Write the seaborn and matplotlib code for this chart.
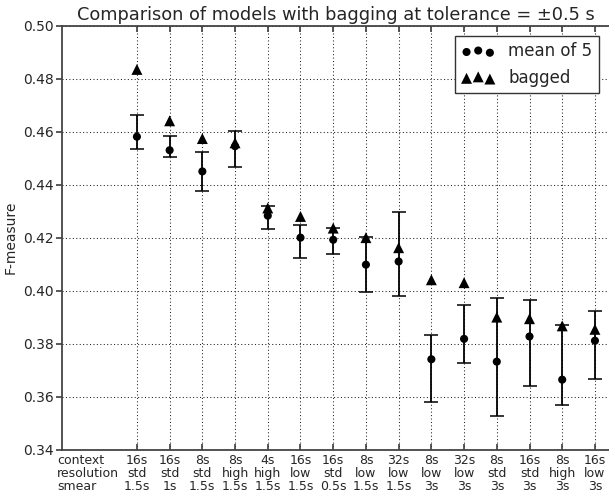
import matplotlib
matplotlib.use("Agg")
import matplotlib.pyplot as plt
import seaborn as sns
import numpy as np
import pandas as pd

context = ["16s", "16s", "8s", "8s", "4s", "16s", "16s", "8s", "32s", "8s", "32s", "8s", "16s", "8s", "16s"]
resolution = ["std", "std", "std", "high", "high", "low", "std", "low", "low", "low", "low", "std", "std", "high", "low"]
smear = ["1.5s", "1s", "1.5s", "1.5s", "1.5s", "1.5s", "0.5s", "1.5s", "1.5s", "3s", "3s", "3s", "3s", "3s", "3s"]

mean_of_5 = [0.4581, 0.4530, 0.4450, 0.4545, 0.4283, 0.4200, 0.4192, 0.4098, 0.4110,
             0.3741, 0.3818, 0.3732, 0.3827, 0.3664, 0.3811]
bagged = [0.4835, 0.4641, 0.4574, 0.4558, 0.4312, 0.4280, 0.4236, 0.4200, 0.4162,
          0.4041, 0.4030, 0.3900, 0.3894, 0.3867, 0.3854]
err_high = [0.4663, 0.4582, 0.4522, 0.4603, 0.4321, 0.4249, 0.4238, 0.4202, 0.4296,
            0.3833, 0.3946, 0.3972, 0.3966, 0.3870, 0.3923]
err_low = [0.4535, 0.4504, 0.4376, 0.4466, 0.4231, 0.4125, 0.4139, 0.3994, 0.3981,
           0.3581, 0.3727, 0.3527, 0.3639, 0.3568, 0.3665]

header_label = "context\nresolution\nsmear"
title = "Comparison of models with bagging at tolerance = \u00b10.5 s"
y_ticks = [0.34, 0.36, 0.38, 0.40, 0.42, 0.44, 0.46, 0.48, 0.50]

sns.set_theme(style="white")
plt.rcParams["font.family"] = ["DejaVu Sans"]

pos = np.arange(len(mean_of_5))
df = pd.DataFrame({"pos": pos, "mean": mean_of_5, "bagged": bagged,
                   "hi": err_high, "lo": err_low})

fig = plt.figure(figsize=(6.09, 4.99), dpi=100)
ax = fig.add_axes([0.1018, 0.0990, 0.8982, 0.8495])

ax.errorbar(df["pos"], df["mean"],
            yerr=[df["mean"] - df["lo"], df["hi"] - df["mean"]],
            fmt="none", ecolor="black", elinewidth=1.3, capsize=5, capthick=1.1, zorder=2)
sns.scatterplot(data=df, x="pos", y="mean", marker="o", s=34, color="black",
                edgecolor="none", label="mean of 5", ax=ax, zorder=3)
sns.scatterplot(data=df, x="pos", y="bagged", marker="^", s=62, color="black",
                edgecolor="none", label="bagged", ax=ax, zorder=3)

ax.set_xlim(-2.29, 14.43)
ax.set_ylim(0.34, 0.50)
ax.set_yticks(y_ticks)
ax.set_yticklabels([f"{v:.2f}" for v in y_ticks], fontsize=10)

xt = [-1.5] + list(pos)
xl = [header_label] + [f"{c}\n{r}\n{s}" for c, r, s in zip(context, resolution, smear)]
ax.set_xticks(xt)
ax.set_xticklabels(xl, fontsize=9, linespacing=1.0)
ax.set_xlabel("")
ax.set_ylabel("F-measure", fontsize=10)
ax.set_title(title, fontsize=12.8, pad=4)

ax.grid(True, linestyle=(0, (1, 2.3)), color="#222222", linewidth=0.75)
ax.tick_params(axis="x", direction="in", top=True, bottom=True, length=4, pad=3,
               color="#444444")
ax.tick_params(axis="y", direction="out", left=True, right=False, length=4, pad=2,
               color="#444444")
ticks = ax.xaxis.get_major_ticks()
ticks[0].tick1line.set_visible(False)
ticks[0].tick2line.set_visible(False)
ticks[0].gridline.set_visible(False)
ticks[0].label1.set_multialignment("left")

for s in ["left", "bottom", "top"]:
    ax.spines[s].set_color("#444444")
    ax.spines[s].set_linewidth(1.3)
ax.spines["right"].set_visible(False)

leg = ax.legend(loc="upper right", scatterpoints=3,
                scatteryoffsets=[0.375, 0.5, 0.3125], fontsize=12,
                frameon=True, fancybox=False, edgecolor="#333333", framealpha=1,
                borderaxespad=0.6)
leg.get_frame().set_linewidth(1.0)

fig.savefig("out.png", dpi=100)
